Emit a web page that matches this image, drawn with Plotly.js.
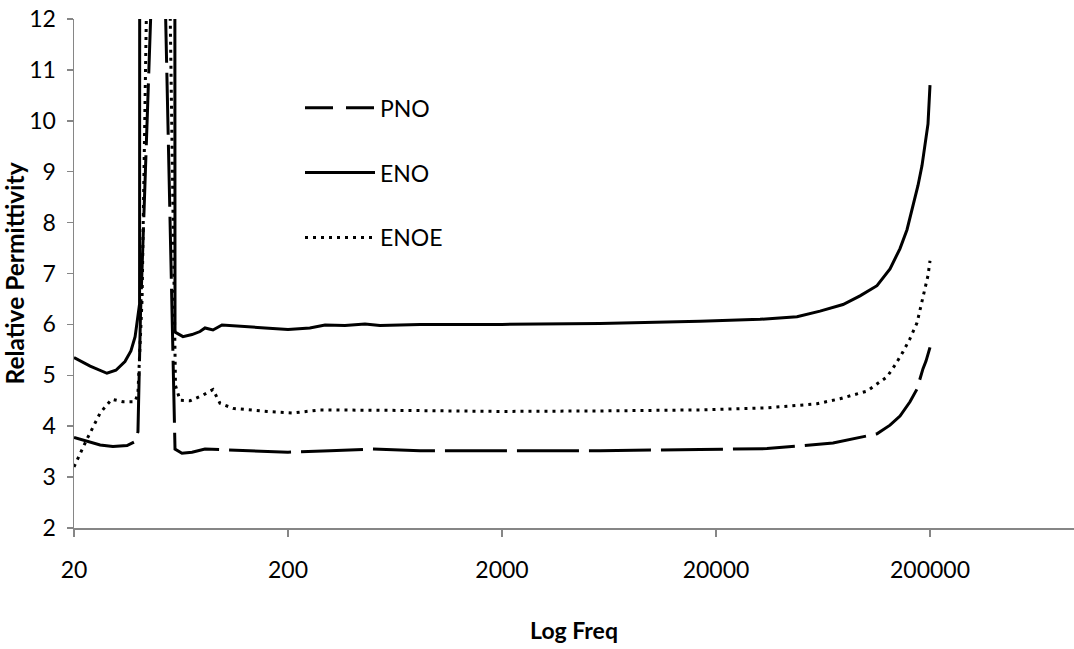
<!DOCTYPE html>
<html>
<head>
<meta charset="utf-8">
<script src="https://cdn.plot.ly/plotly-3.0.1.min.js"></script>
<style>html,body{margin:0;padding:0;background:#fff;}#chart{width:1074px;height:649px;}</style>
</head>
<body>
<div id="chart"></div>
<script>
// ---- data ----
const seriesNames = ["PNO", "ENO", "ENOE"];
const tickValues = [20, 200, 2000, 20000, 200000];
const tickLabels = ["20", "200", "2000", "20000", "200000"];

const enoFreq = [20, 23.8, 28.5, 31.4, 34.6, 36.9, 38.6, 39.6, 40.5, 41.1, 58.3, 59.3, 64.6, 71.2, 77.6, 81.9, 89.2, 98.3, 119.3, 156.2, 200, 253, 298, 369, 458, 538, 828, 2000, 5742, 16838, 32120, 47800, 61240, 78440, 94180, 113060, 130060, 144820, 156160, 166600, 175780, 183520, 189520, 195740, 200000];
const enoVal = [5.35, 5.18, 5.04, 5.10, 5.27, 5.48, 5.76, 6.09, 6.4, 80, 80, 5.85, 5.76, 5.80, 5.86, 5.93, 5.89, 5.99, 5.97, 5.93, 5.90, 5.93, 5.99, 5.98, 6.01, 5.98, 6.00, 6.00, 6.02, 6.06, 6.10, 6.15, 6.26, 6.39, 6.56, 6.76, 7.09, 7.49, 7.86, 8.31, 8.73, 9.12, 9.49, 9.94, 10.70];

const enoeFreq = [20, 22.9, 26.5, 30.0, 33.9, 38.6, 39.8, 41.6, 43.9, 55.9, 59.6, 62.6, 69.7, 80.1, 89.2, 96.2, 110.7, 159.6, 211, 282, 668, 2000, 5742, 16838, 34620, 59300, 75940, 101540, 125940, 137260, 149580, 161280, 173920, 181540, 189520, 195740, 200000];
const enoeVal = [3.20, 3.73, 4.26, 4.53, 4.48, 4.48, 4.65, 6.5, 13, 13, 4.8, 4.51, 4.50, 4.61, 4.72, 4.45, 4.35, 4.29, 4.26, 4.32, 4.31, 4.29, 4.30, 4.32, 4.36, 4.44, 4.54, 4.69, 4.97, 5.20, 5.46, 5.72, 6.03, 6.35, 6.68, 6.96, 7.25];

const pnoFreq = [20, 26.5, 30.4, 35.4, 38.6, 39.8, 40.9, 46.3, 53.0, 59.3, 63.9, 71.2, 81.9, 107.2, 148.0, 200, 314, 499, 828, 2000, 5742, 16838, 34620, 70440, 94180, 113060, 130060, 144820, 161280, 173920, 185500, 191580, 200000];
const pnoVal = [3.78, 3.63, 3.60, 3.62, 3.70, 3.89, 6.2, 12.8, 13.0, 3.55, 3.47, 3.49, 3.55, 3.53, 3.50, 3.49, 3.52, 3.55, 3.52, 3.52, 3.52, 3.54, 3.56, 3.67, 3.78, 3.85, 4.02, 4.20, 4.48, 4.73, 5.13, 5.28, 5.55];

// ---- chart ----
const FONT = "Lato, Open Sans, sans-serif";
const AX = "#868686";

const traces = [
  { // legend key for PNO (the key uses a shorter dash, as in the reference)
    x: [null], y: [null], type: "scatter", mode: "lines", name: seriesNames[0],
    legendgroup: "g1", showlegend: true, hoverinfo: "skip",
    line: { color: "#000", width: 3, dash: "28px,13px" }
  },
  {
    x: enoFreq, y: enoVal, type: "scatter", mode: "lines", name: seriesNames[1],
    legendgroup: "g2", line: { color: "#000", width: 3 }
  },
  {
    x: enoeFreq, y: enoeVal, type: "scatter", mode: "lines", name: seriesNames[2],
    legendgroup: "g3", line: { color: "#000", width: 3, dash: "3px,5px" }
  },
  {
    x: pnoFreq, y: pnoVal, type: "scatter", mode: "lines", name: seriesNames[0],
    legendgroup: "g1", showlegend: false,
    line: { color: "#000", width: 3, dash: "62px,10px" }
  }
];

const layout = {
  width: 1074, height: 649,
  margin: { l: 74, r: 0, t: 19, b: 121, pad: 0 },
  paper_bgcolor: "#fff", plot_bgcolor: "#fff",
  font: { family: FONT, size: 23, color: "#000" },
  showlegend: true,
  legend: {
    x: 0.226, y: 0.868, xanchor: "left", yanchor: "top",
    font: { family: FONT, size: 23, color: "#000" },
    itemwidth: 70, traceorder: "grouped", tracegroupgap: 32,
    bgcolor: "rgba(0,0,0,0)", borderwidth: 0
  },
  xaxis: {
    type: "log",
    range: [Math.log10(20), Math.log10(20) + 1000 / 214],
    tickmode: "array", tickvals: tickValues, ticktext: tickLabels,
    ticks: "outside", ticklen: 7, tickwidth: 1.5, tickcolor: AX,
    ticklabelstandoff: 14,
    showline: true, linecolor: AX, linewidth: 1.5,
    showgrid: false, zeroline: false,
    tickfont: { family: FONT, size: 23, color: "#000" },
    title: { text: "Log Freq", font: { family: FONT, size: 23, color: "#000", weight: "bold" }, standoff: 41 },
    automargin: false
  },
  yaxis: {
    range: [2, 12], tick0: 2, dtick: 1,
    ticks: "outside", ticklen: 6, tickwidth: 1.5, tickcolor: AX,
    ticklabelstandoff: 6,
    showline: true, linecolor: AX, linewidth: 1.5,
    showgrid: false, zeroline: false,
    tickfont: { family: FONT, size: 23, color: "#000" },
    title: { text: "Relative Permittivity", font: { family: FONT, size: 24.5, color: "#000", weight: "bold" }, standoff: 0 },
    automargin: false
  }
};

Plotly.newPlot("chart", traces, layout, { displayModeBar: false, staticPlot: true });
</script>
</body>
</html>
